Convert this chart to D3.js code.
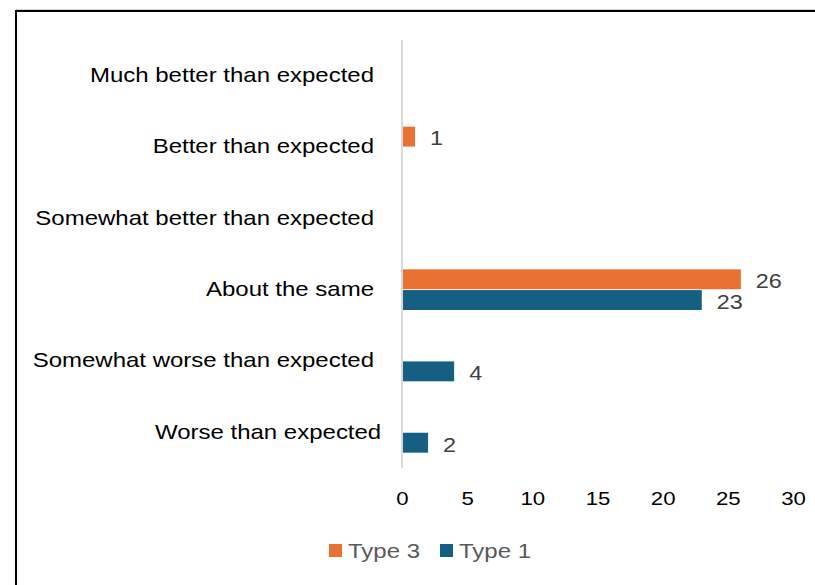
<!DOCTYPE html>
<html>
<head>
<meta charset="utf-8">
<script src="https://cdn.jsdelivr.net/npm/d3@7"></script>
<style>
  html, body { margin: 0; padding: 0; background: #fff; }
  svg { display: block; font-family: "Liberation Sans", Arial, sans-serif; }
</style>
</head>
<body>
<svg id="chart" width="815" height="585"></svg>
<script>
// Response categories, top to bottom
const categories = [
  "Much better than expected",
  "Better than expected",
  "Somewhat better than expected",
  "About the same",
  "Somewhat worse than expected",
  "Worse than expected"
];
// Series values (null = no bar drawn)
const type3 = [null, 1, null, 26, null, null];
const type1 = [null, null, null, 23, 4, 2];
const seriesNames = ["Type 3", "Type 1"];
const seriesColors = ["#E97132", "#156082"];
const xTicks = [0, 5, 10, 15, 20, 25, 30];

// Text is drawn slightly wide
const WIDE = "scale(1.2,1)";

const svg = d3.select("#chart");

// Outer frame
svg.append("line").attr("x1", 16).attr("x2", 815).attr("y1", 9.5).attr("y2", 9.5)
  .attr("stroke", "#d0d0d0").attr("stroke-width", 1);
svg.append("rect").attr("x", 16).attr("y", 11).attr("width", 900).attr("height", 700)
  .attr("fill", "none").attr("stroke", "#000").attr("stroke-width", 2);

const x = d3.scaleLinear().domain([0, 30]).range([402, 793]);
const y = d3.scaleBand().domain(categories).range([40, 468]);
const inner = d3.scaleBand().domain(seriesNames).range([0, y.bandwidth()]).paddingOuter(0.74).paddingInner(0.04);

// Category axis line
svg.append("line")
  .attr("x1", x(0)).attr("x2", x(0))
  .attr("y1", y.range()[0]).attr("y2", y.range()[1])
  .attr("stroke", "#d9d9d9").attr("stroke-width", 2);

// Category labels
const yAxis = d3.axisLeft(y).tickSize(0).tickPadding(0);
const gy = svg.append("g").attr("transform", "translate(374,0)").call(yAxis);
gy.select(".domain").remove();
gy.selectAll("text").attr("font-size", 20).attr("fill", "#000")
  .attr("font-family", "Liberation Sans, Arial, sans-serif")
  .attr("dx", d => d === "Worse than expected" ? 6 : 0)
  .attr("transform", WIDE);

// Value axis tick labels
const xAxis = d3.axisBottom(x).tickValues(xTicks).tickSize(0).tickPadding(0);
const gx = svg.append("g").attr("transform", "translate(0,492)").call(xAxis);
gx.select(".domain").remove();
gx.selectAll("text").attr("font-size", 18.5).attr("fill", "#000")
  .attr("font-family", "Liberation Sans, Arial, sans-serif")
  .attr("transform", WIDE);

// Bars and value labels
const series = [type3, type1];
series.forEach((vals, si) => {
  const name = seriesNames[si];
  const data = categories.map((c, i) => ({ c, v: vals[i] })).filter(d => d.v != null);
  svg.append("g").selectAll("rect").data(data).join("rect")
    .attr("x", x(0) + 1)
    .attr("y", d => y(d.c) + inner(name))
    .attr("width", d => x(d.v) - x(0) - 1)
    .attr("height", inner.bandwidth())
    .attr("fill", seriesColors[si]);
  svg.append("g").selectAll("text").data(data).join("text")
    .attr("transform", d => `translate(${x(d.v) + 15},${y(d.c) + inner(name) + inner.bandwidth() / 2 + 2}) ${WIDE}`)
    .attr("dy", "0.35em")
    .attr("font-size", 19.5)
    .attr("fill", "#404040")
    .text(d => d.v);
});

// Legend
const legend = svg.append("g").attr("transform", "translate(329,551)");
const items = legend.selectAll("g").data(seriesNames).join("g")
  .attr("transform", (d, i) => `translate(${i * 111},0)`);
items.append("rect").attr("x", 0).attr("y", -7).attr("width", 13).attr("height", 13)
  .attr("fill", (d, i) => seriesColors[i]);
items.append("text").attr("transform", `translate(19,0) ${WIDE}`).attr("dy", "0.35em")
  .attr("font-size", 20).attr("fill", "#595959").text(d => d);
</script>
</body>
</html>
